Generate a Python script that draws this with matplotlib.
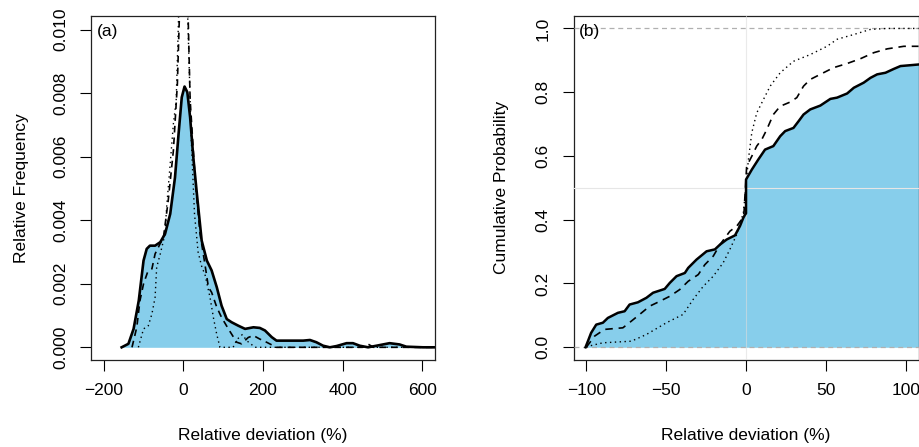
import matplotlib
matplotlib.use("Agg")
import matplotlib.pyplot as plt

plt.rcParams['font.family'] = ['Liberation Sans', 'DejaVu Sans']
plt.rcParams['font.size'] = 12.5

# (a) density curves: relative deviation (%) vs relative frequency
dens_x = [-155, -138, -125, -112, -100, -92, -84, -71, -58, -46, -33, -21, -12, -4, 3,
          10, 17, 25, 34, 46, 59, 71, 84, 96, 109, 121, 138, 155, 176, 192, 205,
          222, 234, 268, 301, 318, 334, 351, 368, 385, 410, 426, 443, 464, 485,
          518, 543, 560, 602, 632]
dens_y = [0.0, 0.00011, 0.00058, 0.00147, 0.00273, 0.0031, 0.0032, 0.0032, 0.00331,
          0.00357, 0.0042, 0.00535, 0.00672, 0.00787, 0.00821, 0.00803, 0.00724,
          0.00598, 0.00483, 0.00336, 0.00273, 0.00242, 0.00189, 0.00131, 0.00089,
          0.00079, 0.00068, 0.00058, 0.00063, 0.00061, 0.00053, 0.00032, 0.00021,
          0.00021, 0.00021, 0.00023, 0.00016, 0.00005, 0.0, 0.00004, 0.00013,
          0.00013, 0.00005, 0.0, 0.00005, 0.00013, 0.00009, 0.00002, 0.0, 0.0]

dash_x = [-129, -117, -109, -100, -90, -79, -71, -58, -50, -38, -25, -15, -10, 1,
          12, 17, 30, 42, 54, 63, 71, 84, 96, 113, 134, 146, 163, 176, 192, 209,
          234, 450, 464, 478, 632]
dash_y = [0.0, 0.00063, 0.00147, 0.002, 0.00236, 0.00247, 0.00294, 0.00327, 0.00346,
          0.00462, 0.0062, 0.0083, 0.0104, 0.0125, 0.0104, 0.0078, 0.0052, 0.00357,
          0.00263, 0.00189, 0.00173, 0.00126, 0.00094, 0.00058, 0.00016, 0.00011,
          0.00031, 0.00037, 0.00026, 0.00016, 0.0, 0.0, 0.0001, 0.0, 0.0]

dot_x = [-113, -100, -88, -79, -71, -67, -58, -46, -42, -33, -25, -18, -12, -2, 11,
         20, 28, 37, 47, 54, 67, 76, 84, 92, 125, 135, 148, 160, 180, 632]
dot_y = [0.0, 0.00058, 0.00068, 0.00105, 0.00157, 0.00252, 0.00294, 0.00357, 0.00441,
         0.00578, 0.00704, 0.00777, 0.0104, 0.0135, 0.0104, 0.0065, 0.0042, 0.003,
         0.0025, 0.00231, 0.00157, 0.0009, 0.0004, 0.0, 0.0, 0.00025, 0.0004,
         0.0002, 0.0, 0.0]

# (b) cumulative probability
cum_x = [-100.5, -99, -97, -93.8, -89.6, -86.5, -80.2, -76, -72.9, -67.7, -62.4, -58.2,
         -50.9, -47.7, -43.5, -38.3, -36.2, -31, -24.7, -19.5, -16.3, -12.1, -6.9,
         -3.8, -1.7, -0.6, 0, 0, 3.6, 7.7, 11.9, 17.1, 21.4, 24.5, 29.7, 32.9, 36, 40.2,
         46.5, 52.8, 57, 63.3, 67.5, 73.7, 77.9, 82.1, 87.3, 92.5, 96.7, 108.2]
cum_y = [0.0, 0.019, 0.045, 0.071, 0.077, 0.092, 0.108, 0.113, 0.134, 0.141, 0.155,
         0.171, 0.183, 0.202, 0.223, 0.233, 0.249, 0.275, 0.301, 0.307, 0.322, 0.338,
         0.351, 0.38, 0.406, 0.416, 0.42, 0.526, 0.557, 0.589, 0.62, 0.631, 0.662, 0.678,
         0.688, 0.709, 0.73, 0.746, 0.758, 0.779, 0.783, 0.796, 0.814, 0.83, 0.845,
         0.856, 0.861, 0.873, 0.882, 0.887]

cdash_x = [-100, -94.8, -88.6, -77.1, -71.8, -66.6, -60.3, -56.1, -47.7, -41.5, -36.2,
           -29.9, -25.8, -20.5, -16.3, -10.1, -5.8, -2.7, -1.3, 0.4, 3.6, 6.7, 9.9,
           13, 17.1, 21.4, 27.6, 31.8, 36, 40.2, 46.5, 54.8, 63.3, 71.6, 80, 88.4,
           98.8, 108]
cdash_y = [0.0, 0.035, 0.056, 0.061, 0.082, 0.103, 0.129, 0.139, 0.16, 0.181, 0.207,
           0.228, 0.259, 0.286, 0.322, 0.364, 0.38, 0.401, 0.42, 0.568, 0.599, 0.631,
           0.652, 0.683, 0.73, 0.756, 0.769, 0.783, 0.819, 0.84, 0.856, 0.877, 0.89,
           0.905, 0.924, 0.936, 0.944, 0.944]

cdot_x = [-100, -99, -89.6, -71.8, -62.4, -49.8, -39.4, -33.1, -26.8, -20.5, -14.3,
          -10.1, -5.8, -3.8, -1.7, 1.5, 3.6, 6.7, 10.9, 15.1, 21.4, 29.7, 40.2, 50.7,
          57, 67.5, 77.9, 88.4, 108]
cdot_y = [0.0, 0.003, 0.014, 0.019, 0.04, 0.077, 0.103, 0.15, 0.191, 0.223, 0.265,
          0.307, 0.354, 0.39, 0.42, 0.589, 0.673, 0.735, 0.777, 0.819, 0.861, 0.897,
          0.918, 0.944, 0.966, 0.981, 0.997, 1.0, 1.0]

fill_col = '#87CEEB'

fig = plt.figure(figsize=(9.2, 4.47), dpi=100)
ax1 = fig.add_axes([0.0989, 0.1946, 0.3739, 0.7703])
ax2 = fig.add_axes([0.6234, 0.1946, 0.3750, 0.7703])

# panel (a)
ax1.fill_between(dens_x, dens_y, 0, color=fill_col, lw=0)
ax1.plot(dot_x, dot_y, color='black', lw=1.0, ls=(0, (1, 2.5)))
ax1.plot(dash_x, dash_y, color='black', lw=1.2, ls=(0, (4, 3)))
ax1.plot(dens_x, dens_y, color='black', lw=1.9, solid_joinstyle='round')
ax1.set_xlim(-232, 632)
ax1.set_ylim(-0.0004, 0.01044)
ax1.set_xticks([-200, 0, 200, 400, 600])
ax1.set_yticks([0.0, 0.002, 0.004, 0.006, 0.008, 0.010])
ax1.set_yticklabels(['0.000', '0.002', '0.004', '0.006', '0.008', '0.010'],
                    rotation=90, va='center')
ax1.set_xlabel('Relative deviation (%)', va='center')
ax1.xaxis.set_label_coords(0.5, -0.218)
ax1.set_ylabel('Relative Frequency', va='center')
ax1.yaxis.set_label_coords(-0.2015, 0.5)
ax1.text(0.016, 0.954, '(a)', transform=ax1.transAxes, ha='left', va='center')

# panel (b)
ax2.axhline(0.5, color='#e6e6e6', lw=0.8, zorder=3)
ax2.axvline(0, color='#dcdcdc', lw=0.8, alpha=0.6, zorder=3)
ax2.fill_between(cum_x, cum_y, 0, color=fill_col, lw=0)
ax2.axhline(0, color='#b0b0b0', lw=0.9, ls=(0, (4, 3)), zorder=3)
ax2.axhline(1, color='#b0b0b0', lw=0.9, ls=(0, (4, 3)), zorder=3)
ax2.plot(cdot_x, cdot_y, color='black', lw=1.0, ls=(0, (1, 2.5)), zorder=4)
ax2.plot(cdash_x, cdash_y, color='black', lw=1.2, ls=(0, (4.5, 3.5)), zorder=4)
ax2.plot(cum_x, cum_y, color='black', lw=1.8, solid_joinstyle='round', zorder=5)
ax2.set_xlim(-108, 108)
ax2.set_ylim(-0.04, 1.04)
ax2.set_xticks([-100, -50, 0, 50, 100])
ax2.set_xticklabels(['\u2212100', '\u221250', '0', '50', '100'])
ax2.set_yticks([0.0, 0.2, 0.4, 0.6, 0.8, 1.0])
ax2.set_yticklabels(['0.0', '0.2', '0.4', '0.6', '0.8', '1.0'], rotation=90, va='center')
ax2.set_xlabel('Relative deviation (%)', va='center')
ax2.xaxis.set_label_coords(0.5, -0.218)
ax2.set_ylabel('Cumulative Probability', va='center')
ax2.yaxis.set_label_coords(-0.208, 0.5)
ax2.text(0.016, 0.954, '(b)', transform=ax2.transAxes, ha='left', va='center')

for ax in (ax1, ax2):
    ax.tick_params(direction='out', length=7.6, width=0.8, pad=9, colors='black')
    for s in ax.spines.values():
        s.set_linewidth(0.9)
        s.set_color('#222222')

fig.savefig('out.png', dpi=100)
